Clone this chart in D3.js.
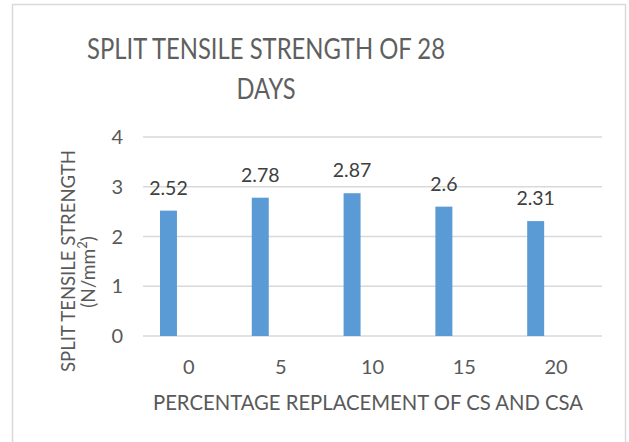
<!DOCTYPE html>
<html lang="en">
<head>
    <meta charset="UTF-8">
    <title>Split tensile strength of 28 days</title>
    <script src="https://cdn.jsdelivr.net/npm/d3@7"></script>
    <style>
        body{
            margin: 0;
            background: #fff;
        }
        text{
            font-family: Lato, "Open Sans", sans-serif;
        }
        .grid line{
            stroke: #d9d9d9;
            stroke-width: 1.3px;
        }
        .tick_label{
            fill: #595959;
            font-size: 20px;
        }
        .data_label{
            fill: #404040;
            font-size: 19.5px;
        }
        .title{
            fill: #5f5f5f;
            font-size: 29px;
        }
        .axis_title{
            fill: #595959;
            font-size: 22px;
        }
        .y_title{
            fill: #595959;
            font-size: 19px;
        }
    </style>
</head>
<body>
<svg id="svg_main"></svg>
<script>
    // chart size
    const width = 629;
    const height = 442;

    // data
    const categories = ['0', '5', '10', '15', '20'];
    const strength = [2.52, 2.78, 2.87, 2.6, 2.31];
    const yTicks = [0, 1, 2, 3, 4];
    const titleLines = ['SPLIT TENSILE STRENGTH OF 28', 'DAYS'];
    const yTitleLines = ['SPLIT TENSILE STRENGTH', '(N/mm'];
    const xTitle = 'PERCENTAGE REPLACEMENT OF CS AND CSA';

    // plot area
    const plot = {left: 143, right: 602, top: 137, bottom: 336};

    let svg = d3.select('#svg_main')
        .attr('width', width)
        .attr('height', height);

    // chart border
    svg.append('rect')
        .attr('x', 12.5).attr('y', 4.5)
        .attr('width', 613).attr('height', 460)
        .attr('fill', '#fff')
        .attr('stroke', '#d9d9d9')
        .attr('stroke-width', 1.5);

    let xScale = d3.scaleBand()
        .domain(categories)
        .range([plot.left, plot.right])
        .padding(0);
    let yScale = d3.scaleLinear()
        .domain([0, 4])
        .range([plot.bottom, plot.top]);

    // gridlines
    svg.append('g').attr('class', 'grid')
        .selectAll('line')
        .data(yTicks)
        .enter()
        .append('line')
        .attr('x1', plot.left)
        .attr('x2', plot.right)
        .attr('y1', d => yScale(d))
        .attr('y2', d => yScale(d));

    // y tick labels
    svg.append('g')
        .selectAll('text')
        .data(yTicks)
        .enter()
        .append('text')
        .attr('class', 'tick_label')
        .attr('x', 123)
        .attr('y', d => yScale(d))
        .attr('dy', '0.36em')
        .attr('text-anchor', 'end')
        .text(d => d);

    // x tick labels
    svg.append('g')
        .selectAll('text')
        .data(categories)
        .enter()
        .append('text')
        .attr('class', 'tick_label')
        .attr('x', d => xScale(d) + xScale.bandwidth() / 2)
        .attr('y', 374)
        .attr('text-anchor', 'middle')
        .text(d => d);

    // bars sit in the first slot of each category (as in a clustered chart)
    const barOffset = 0.185;
    const barWidth = 0.185;
    let bars = svg.append('g')
        .selectAll('g')
        .data(strength)
        .enter()
        .append('g');
    bars.append('rect')
        .attr('x', (d, i) => xScale(categories[i]) + xScale.bandwidth() * barOffset)
        .attr('width', xScale.bandwidth() * barWidth)
        .attr('y', d => yScale(d))
        .attr('height', d => yScale(0) - yScale(d))
        .attr('fill', '#5b9bd5');
    bars.append('text')
        .attr('class', 'data_label')
        .attr('x', (d, i) => xScale(categories[i]) + xScale.bandwidth() * (barOffset + barWidth / 2))
        .attr('y', d => yScale(d) - 16)
        .attr('text-anchor', 'middle')
        .text(d => d);

    // chart title (the source is squeezed sideways, so fit each line)
    const titleWidths = [358, 59];
    svg.append('text')
        .attr('class', 'title')
        .attr('text-anchor', 'middle')
        .selectAll('tspan')
        .data(titleLines)
        .enter()
        .append('tspan')
        .attr('x', 266)
        .attr('y', (d, i) => 59 + i * 40)
        .attr('textLength', (d, i) => titleWidths[i])
        .attr('lengthAdjust', 'spacingAndGlyphs')
        .text(d => d);

    // x axis title
    svg.append('text')
        .attr('class', 'axis_title')
        .attr('x', 368)
        .attr('y', 410)
        .attr('text-anchor', 'middle')
        .attr('textLength', 430)
        .attr('lengthAdjust', 'spacingAndGlyphs')
        .text(xTitle);

    // y axis title, two lines rotated
    let yTitle = svg.append('g')
        .attr('transform', 'rotate(-90)');
    yTitle.append('text')
        .attr('class', 'y_title')
        .attr('text-anchor', 'middle')
        .attr('x', -261).attr('y', 75)
        .attr('textLength', 222)
        .attr('lengthAdjust', 'spacingAndGlyphs')
        .text(yTitleLines[0]);
    let unit = yTitle.append('text')
        .attr('class', 'y_title')
        .attr('text-anchor', 'middle')
        .attr('x', -272).attr('y', 95)
        .attr('font-size', '21px');
    unit.append('tspan').text(yTitleLines[1]);
    unit.append('tspan').attr('dy', -8).attr('font-size', '13px').text('2');
    unit.append('tspan').attr('dy', 8).text(')');
</script>
</body>
</html>
